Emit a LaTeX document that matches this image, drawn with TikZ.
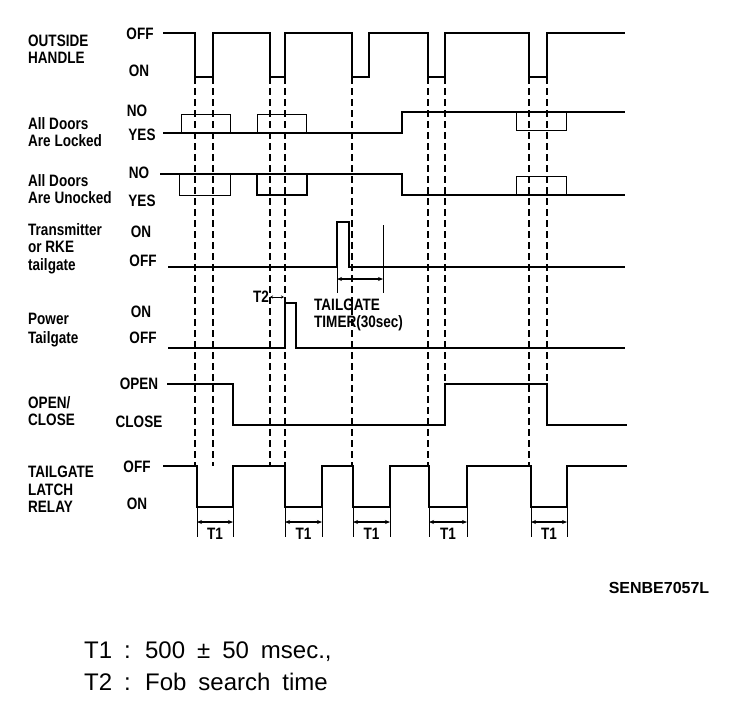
\documentclass[tikz,border=0pt]{standalone}
\usepackage{fontspec}
\setmainfont{Liberation Sans}
\newfontfamily\narrowfont{Liberation Sans}[FakeStretch=0.82]
\usetikzlibrary{arrows.meta}

\begin{document}
\begin{tikzpicture}[x=1pt,y=-1pt,
  font=\narrowfont\bfseries\fontsize{16.5}{17.5}\selectfont,
  signame/.style={anchor=west,align=left,inner sep=0pt},
  level/.style={inner sep=0pt},
  legend/.style={anchor=west,inner sep=0pt,font=\fontsize{24}{30}\selectfont},
  wave/.style={line width=2.2pt,line join=miter},
  thinbox/.style={line width=0.9pt},
  guide/.style={line width=1.8pt,dash pattern=on 7pt off 4pt},
  tick/.style={line width=0.6pt},
  span/.style={{Stealth[length=5pt,width=4pt]}-{Stealth[length=5pt,width=4pt]},line width=1.5pt}
]
\useasboundingbox (0,0) rectangle (752,716);

\node[signame] (handle) at (28,49) {OUTSIDE\\HANDLE};
\node[signame] (locked) at (28,132) {All Doors\\Are Locked};
\node[signame] (unlocked) at (28,189) {All Doors\\Are Unocked};
\node[signame] (rke) at (28,248.5) {Transmitter\\or RKE\\tailgate};
\node[signame] (power) at (28,330) {Power\\[2pt]Tailgate};
\node[signame] (openclose) at (28,411) {OPEN/\\CLOSE};
\node[signame] (latch) at (28,489.5) {TAILGATE\\LATCH\\RELAY};

\node[level] (handleoff) at (140,34) {OFF};
\node[level] (handleon) at (139,71) {ON};
\node[level] (lockedno) at (137,111) {NO};
\node[level] (lockedyes) at (142,135) {YES};
\node[level] (unlockedno) at (139,173) {NO};
\node[level] (unlockedyes) at (142,201) {YES};
\node[level] (rkeon) at (141,232) {ON};
\node[level] (rkeoff) at (143,261) {OFF};
\node[level] (poweron) at (141,312) {ON};
\node[level] (poweroff) at (143,338) {OFF};
\node[level] (open) at (139,384) {OPEN};
\node[level] (close) at (139,422) {CLOSE};
\node[level] (latchoff) at (137,467) {OFF};
\node[level] (latchon) at (137,504) {ON};

\foreach \x/\e in {195/466,213/466,270/466,285/466,352/466,428/466,445/384,529/466,547/384}
  \draw[guide] (\x,77) -- (\x,\e);

\draw[wave] (163,33) -| (195,77) -| (213,33) -| (270,77) -| (285,33) -| (352,77)
  -| (369,33) -| (428,77) -| (445,33) -| (529,77) -| (547,33) -- (625,33);

\draw[wave] (163,133) -- (402,133) |- (625,112);
\draw[thinbox] (181,114) rectangle (230,133);
\draw[thinbox] (257,114) rectangle (306,133);
\draw[thinbox] (516,112) rectangle (566,130);

\draw[wave] (160,174) -- (402,174) |- (625,195);
\draw[thinbox] (179,174) rectangle (230,195);
\draw[wave] (257,174) rectangle (307,195);
\draw[thinbox] (516,176) rectangle (566,195);

\draw[wave] (168,267) -| (337,222) -| (349,267) -- (625,267);
\draw[tick] (337,267) -- (337,293);
\draw[tick] (383,225) -- (383,293);
\draw[span] (337,279) -- (383,279);
\node[signame] (timer) at (314,315) {TAILGATE\\TIMER(30sec)};

\draw[wave] (168,348) -| (285,303) -| (296,348) -- (625,348);
\draw[{Stealth[length=3pt,width=3pt]}-{Stealth[length=3pt,width=3pt]},line width=1pt] (270,297) -- (284,297);
\node[level,anchor=east] (t2) at (269,297) {T2};

\draw[wave] (167,384) -| (233,425) -| (445,384) -| (547,425) -- (627,425);

\draw[wave] (163,466) -| (197,507) -| (233,466) -| (285,507) -| (322,466) -| (353,507)
  -| (390,466) -| (429,507) -| (467,466) -| (531,507) -| (567,466) -- (627,466);

\foreach \a/\b [count=\i] in {197/233,285/322,353/390,429/467,531/567} {
  \draw[tick] (\a,507) -- (\a,537);
  \draw[tick] (\b,507) -- (\b,537);
  \draw[span] (\a,522) -- (\b,522);
  \node[level] (t1\i) at ({(\a+\b)/2},534) {T1};
}

\node[level,font=\bfseries\fontsize{16}{18}\selectfont] (code) at (659,588) {SENBE7057L};

\node[legend] (legendone) at (84,652) {\spaceskip=0.5em\relax T1 : 500 ± 50 msec.,};
\node[legend] (legendtwo) at (84,682) {\spaceskip=0.5em\relax T2 : Fob search time};
\end{tikzpicture}
\end{document}
